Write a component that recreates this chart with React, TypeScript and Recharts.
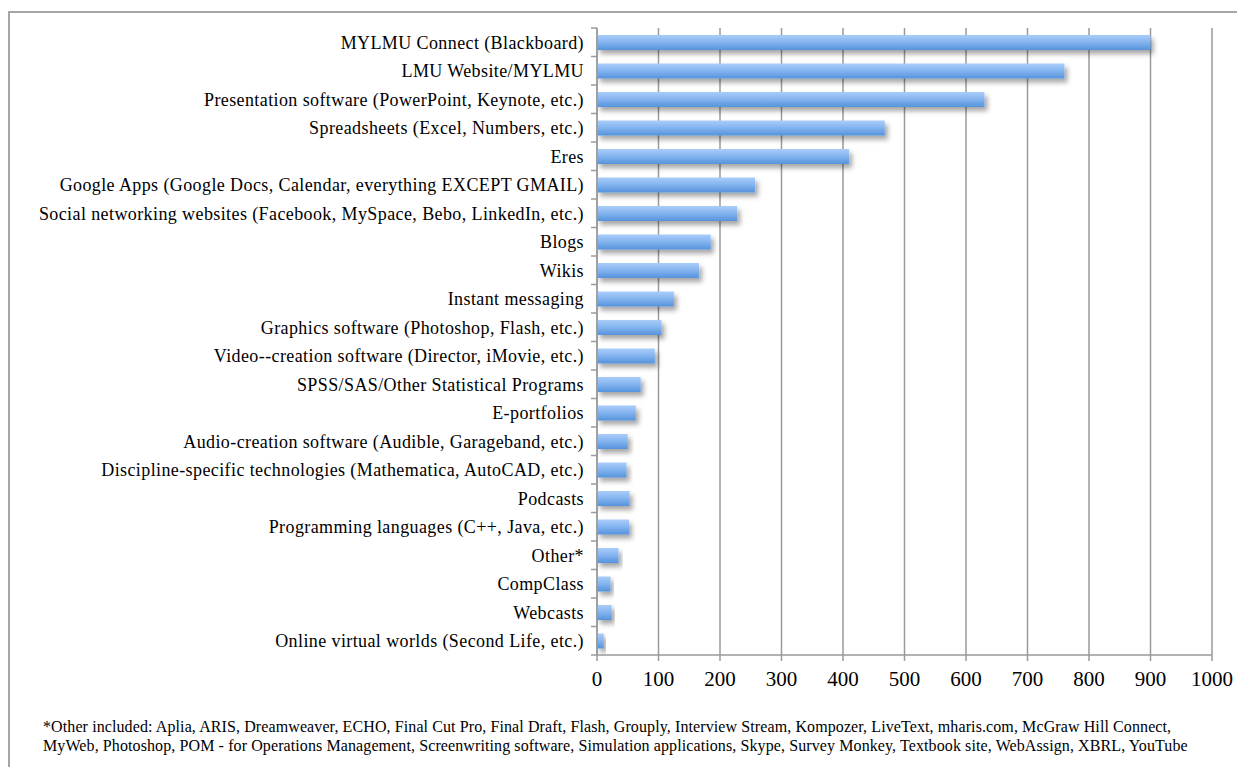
import React from 'react';
import { BarChart, Bar, XAxis, YAxis, CartesianGrid } from 'recharts';

const categories = [
  'MYLMU Connect (Blackboard)',
  'LMU Website/MYLMU',
  'Presentation software (PowerPoint, Keynote, etc.)',
  'Spreadsheets (Excel, Numbers, etc.)',
  'Eres',
  'Google Apps (Google Docs, Calendar, everything EXCEPT GMAIL)',
  'Social networking websites (Facebook, MySpace, Bebo, LinkedIn, etc.)',
  'Blogs',
  'Wikis',
  'Instant messaging',
  'Graphics software (Photoshop, Flash, etc.)',
  'Video--creation software (Director, iMovie, etc.)',
  'SPSS/SAS/Other Statistical Programs',
  'E-portfolios',
  'Audio-creation software (Audible, Garageband, etc.)',
  'Discipline-specific technologies (Mathematica, AutoCAD, etc.)',
  'Podcasts',
  'Programming languages (C++, Java, etc.)',
  'Other*',
  'CompClass',
  'Webcasts',
  'Online virtual worlds (Second Life, etc.)',
];

const counts = [900, 760, 630, 468, 410, 257, 228, 185, 166, 125, 105, 94, 71, 63, 50, 48, 53, 52, 35, 22, 24, 11];

const xTicks = [0, 100, 200, 300, 400, 500, 600, 700, 800, 900, 1000];

const footnoteLines = [
  '*Other included: Aplia, ARIS, Dreamweaver, ECHO, Final Cut Pro, Final Draft, Flash, Grouply, Interview Stream, Kompozer, LiveText, mharis.com, McGraw Hill Connect,',
  'MyWeb, Photoshop, POM - for Operations Management, Screenwriting software, Simulation applications, Skype, Survey Monkey, Textbook site, WebAssign, XBRL, YouTube',
];

const FONT = '"Liberation Serif", serif';
const GRID = '#9a9a9a';
const PLOT_H = 627;
const TICK_SIZE = 6;
const TICK_MARGIN = 7;

const data = categories.map((name, i) => ({ name, value: counts[i] }));

// label at the category centre, tick marks on the category boundaries
const CategoryTick = (props: any) => {
  const { x, y, payload, index } = props;
  const band = PLOT_H / categories.length;
  const axisX = x + TICK_SIZE + TICK_MARGIN;
  return (
    <g>
      <line x1={axisX - TICK_SIZE} x2={axisX} y1={y - band / 2} y2={y - band / 2} stroke={GRID} strokeWidth={1.5} />
      {index === categories.length - 1 && (
        <line x1={axisX - TICK_SIZE} x2={axisX} y1={y + band / 2} y2={y + band / 2} stroke={GRID} strokeWidth={1.5} />
      )}
      <text
        x={x}
        y={y}
        dy="0.35em"
        textAnchor="end"
        fill="#000"
        fontSize={18}
        letterSpacing={0.4}
        fontFamily={FONT}
      >
        {payload.value}
      </text>
    </g>
  );
};

export default function App() {
  return (
    <div
      style={{
        marginTop: 3,
        width: 1237,
        height: 760,
        borderTop: '2px solid #a6a6a6',
        borderLeft: '2px solid #a6a6a6',
        position: 'relative',
        fontFamily: FONT,
      }}
    >
      <BarChart
        width={1235}
        height={682}
        data={data}
        layout="vertical"
        margin={{ top: 15, right: 33, bottom: 0, left: 0 }}
      >
        <defs>
          <linearGradient id="barGrad" x1="0" y1="0" x2="0" y2="1">
            <stop offset="0%" stopColor="#aacdfa" />
            <stop offset="50%" stopColor="#82b3ef" />
            <stop offset="100%" stopColor="#5693db" />
          </linearGradient>
          <filter id="barShadow" x="-10%" y="-50%" width="130%" height="250%">
            <feDropShadow dx="3" dy="4" stdDeviation="2.5" floodColor="#000" floodOpacity="0.35" />
          </filter>
        </defs>
        <CartesianGrid horizontal={false} stroke={GRID} strokeWidth={1.5} />
        <XAxis
          type="number"
          domain={[0, 1000]}
          ticks={xTicks}
          interval={0}
          height={40}
          tickSize={6}
          tickMargin={10}
          axisLine={{ stroke: GRID, strokeWidth: 1.5 }}
          tickLine={{ stroke: GRID, strokeWidth: 1.5 }}
          tick={{ fill: '#000', fontSize: 21, fontFamily: FONT }}
        />
        <YAxis
          type="category"
          dataKey="name"
          width={587}
          interval={0}
          tickSize={TICK_SIZE}
          tickMargin={TICK_MARGIN}
          tickLine={false}
          axisLine={{ stroke: GRID, strokeWidth: 1.5 }}
          tick={<CategoryTick />}
        />
        <Bar
          dataKey="value"
          barSize={15}
          fill="url(#barGrad)"
          filter="url(#barShadow)"
          isAnimationActive={false}
        />
      </BarChart>
      <div
        style={{
          position: 'absolute',
          left: 33,
          top: 704,
          fontSize: 16,
          letterSpacing: 0.1,
          lineHeight: '19px',
          color: '#000',
          whiteSpace: 'nowrap',
        }}
      >
        {footnoteLines.map((line) => (
          <div key={line}>{line}</div>
        ))}
      </div>
    </div>
  );
}
